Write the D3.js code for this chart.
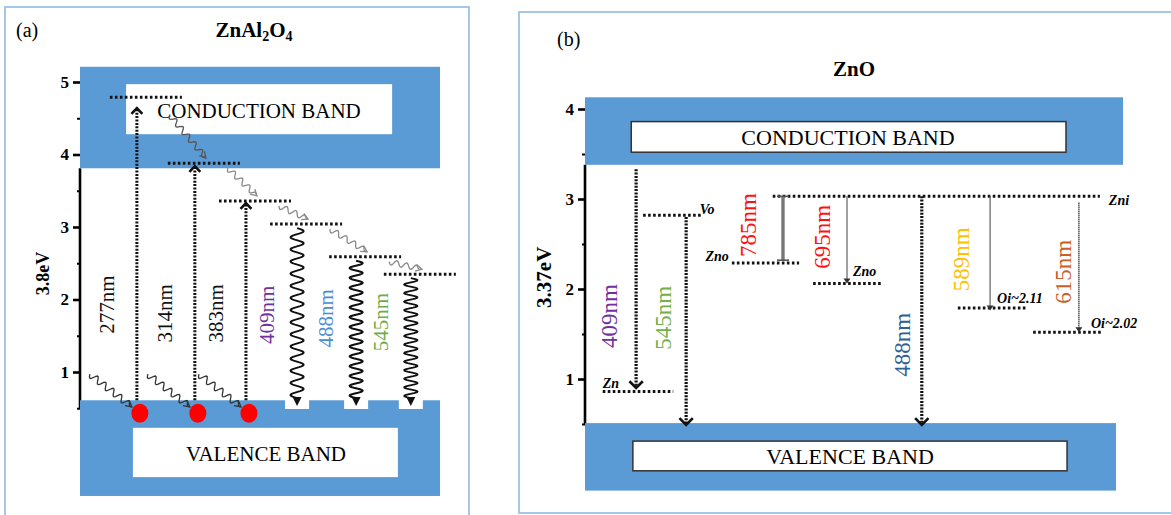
<!DOCTYPE html>
<html>
<head>
<meta charset="utf-8">
<script src="https://cdn.jsdelivr.net/npm/d3@7"></script>
<style>
  html, body { margin: 0; padding: 0; background: #fff; }
  svg { display: block; }
  text { font-family: "Liberation Serif", "Times New Roman", serif; }
</style>
</head>
<body>
<svg id="chart" width="1171" height="515"></svg>
<script>
// ---------- Panel (a): ZnAl2O4 energy-level scheme ----------
const aTicks = [1, 2, 3, 4, 5];
const aMinorTicks = [0.5, 1.5, 2.5, 3.5, 4.5];
const aConduction = [3.81, 5.21];          // eV span of the conduction band block
const aValence = [-0.71, 0.61];            // eV span of the valence band block
const aTransitions = ["277nm", "314nm", "383nm", "409nm", "488nm", "545nm"];
const aLanes = [1.58, 3.19, 4.61, 6.03, 7.67, 9.19];   // horizontal slot of each transition
const aLevels = [4.79, 3.88, 3.36, 3.04, 2.59, 2.35];  // level reached / emitted from (eV)
const aAbsorbTips = [4.64, 3.84, 3.33];                // tips of the excitation arrows (eV)
const aLabelAt = [1.93, 1.81, 1.81, 1.79, 1.74, 1.69]; // label centres (eV)

// ---------- Panel (b): ZnO energy-level scheme ----------
const bTicks = [1, 2, 3, 4];
const bMinorTicks = [0.5, 1.5, 2.5, 3.5];
const bConduction = [3.38, 4.13];
const bValence = [-0.24, 0.51];
const bTransitions = ["409nm", "545nm", "785nm", "695nm", "488nm", "589nm", "615nm"];
const bLanes = [0.95, 1.88, 3.68, 4.87, 6.26, 7.53, 9.18];
const bFrom = [3.33, 2.80, 3.03, 3.03, 3.03, 3.03, 2.96];
const bTo = [0.90, 0.49, 2.32, 2.06, 0.49, 1.76, 1.52];
const bLabelLanes = [0.46, 1.45, 3.03, 4.42, 5.91, 6.99, 8.90];
const bLabelAt = [1.70, 1.68, 2.71, 2.58, 1.38, 2.33, 2.19];
const bLevelNames = ["Zni", "Vo", "Zno", "Zno", "Oi~2.11", "Oi~2.02", "Zn"];
const bLevelE = [3.03, 2.82, 2.29, 2.06, 1.79, 1.52, 0.86];
const bLevelStart = [3.49, 1.08, 2.73, 4.24, 6.93, 8.33, 0.33];
const bLevelEnd = [9.57, 2.17, 3.98, 5.54, 8.22, 9.63, 1.64];

// ---------- styles ----------
const BLUE = "#5B9BD5";
const FRAME = "#9DC3E6";
const SERIF = '"Liberation Serif", "Times New Roman", serif';
const aColors = { "277nm": "#111", "314nm": "#111", "383nm": "#111",
                  "409nm": "#7030A0", "488nm": "#4A8CD0", "545nm": "#70AD47" };
const bColors = { "409nm": "#7030A0", "545nm": "#72B04A", "785nm": "#FF1010", "695nm": "#FF1010",
                  "488nm": "#2F5F93", "589nm": "#FFC000", "615nm": "#C8602A" };
const bKind = { "409nm": "dotted", "545nm": "dotted", "488nm": "dotted",
                "785nm": "bar", "695nm": "thin", "589nm": "thin", "615nm": "thin" };
// where each level name sits: reference point, dx, dy (px), anchor
const bTagPlace = [["end", 9, 9, "start"], ["end", -2, -1, "start"], ["start", -3, -2, "end"],
                   ["695nm", 6, -8, "start"], ["589nm", 7, -5, "start"], ["615nm", 12, -4, "start"],
                   ["start", 0, -4, "start"]];

const svg = d3.select("#chart");
svg.append("rect").attr("width", 1171).attr("height", 515).attr("fill", "#fff");

// helpers --------------------------------------------------------------
function squigglePath(x0, y0, x1, y1, amp, period) {
  const dx = x1 - x0, dy = y1 - y0, L = Math.hypot(dx, dy);
  const ux = dx / L, uy = dy / L, nx = -uy, ny = ux;
  const pts = d3.range(0, L + 0.5, 1).map(t => {
    const fade = Math.min(1, (L - t) / 6);
    const o = amp * Math.sin(2 * Math.PI * t / period) * fade;
    return [x0 + ux * t + nx * o, y0 + uy * t + ny * o];
  });
  return d3.line()(pts);
}
function openHead(x, y, ux, uy, len, spread) {
  const a = Math.atan2(uy, ux);
  const p1 = [x - len * Math.cos(a - spread), y - len * Math.sin(a - spread)];
  const p2 = [x - len * Math.cos(a + spread), y - len * Math.sin(a + spread)];
  return `M${p1[0]},${p1[1]}L${x},${y}L${p2[0]},${p2[1]}`;
}
function squiggleArrow(g, x0, y0, x1, y1, color, width, amp) {
  g.append("path").attr("d", squigglePath(x0, y0, x1, y1, amp, 10))
    .attr("fill", "none").attr("stroke", color).attr("stroke-width", width);
  const L = Math.hypot(x1 - x0, y1 - y0);
  g.append("path").attr("d", openHead(x1, y1, (x1 - x0) / L, (y1 - y0) / L, 7, 0.5))
    .attr("fill", "none").attr("stroke", color).attr("stroke-width", width);
}
function drawAxis(g, x, y, ticks, minor, bottom, top) {
  g.append("line").attr("x1", x).attr("x2", x).attr("y1", y(bottom)).attr("y2", y(top))
    .attr("stroke", "#000").attr("stroke-width", 2.6);
  const major = g.append("g").attr("transform", `translate(${x},0)`)
    .call(d3.axisLeft(y).tickValues(ticks).tickSize(7).tickPadding(4).tickFormat(d3.format("d")));
  major.select(".domain").remove();
  major.selectAll(".tick line").attr("stroke", "#000").attr("stroke-width", 2.6);
  major.selectAll(".tick text").attr("fill", "#000")
    .style("font-family", SERIF).style("font-size", "17px").style("font-weight", "bold");
  const mn = g.append("g").attr("transform", `translate(${x},0)`)
    .call(d3.axisLeft(y).tickValues(minor).tickSize(3).tickFormat(""));
  mn.select(".domain").remove();
  mn.selectAll(".tick line").attr("stroke", "#000").attr("stroke-width", 2);
}
function rotatedLabel(g, x, y, txt, color, size) {
  g.append("text").attr("transform", `translate(${x},${y}) rotate(-90)`)
    .attr("text-anchor", "middle").attr("dominant-baseline", "central")
    .attr("font-size", size).attr("fill", color).text(txt);
}

// ======================= Panel (a) =======================
const ya = d3.scaleLinear().domain([0, 5]).range([444.5, 82]);
const xa = d3.scaleLinear().domain([0, 10]).range([80, 440]);
const gA = svg.append("g");

gA.append("rect").attr("x", 5).attr("y", 7).attr("width", 464).attr("height", 530)
  .attr("fill", "none").attr("stroke", FRAME).attr("stroke-width", 1.8);
gA.append("text").attr("x", 16).attr("y", 37).attr("font-size", 20).text("(a)");
const tA = gA.append("text").attr("x", 254).attr("y", 37).attr("text-anchor", "middle")
  .attr("font-size", 21).attr("font-weight", "bold");
tA.append("tspan").text("ZnAl");
tA.append("tspan").attr("font-size", 14).attr("dy", 4).text("2");
tA.append("tspan").attr("dy", -4).text("O");
tA.append("tspan").attr("font-size", 14).attr("dy", 4).text("4");

drawAxis(gA, xa(0), ya, aTicks, aMinorTicks, 0.49, aConduction[0]);
gA.append("text").attr("transform", `translate(43,${ya(2.36)}) rotate(-90)`)
  .attr("text-anchor", "middle").attr("dominant-baseline", "central")
  .attr("font-size", 18).attr("font-weight", "bold").text("3.8eV");

// bands
gA.append("rect").attr("x", xa(0)).attr("width", xa(10) - xa(0))
  .attr("y", ya(aConduction[1])).attr("height", ya(aConduction[0]) - ya(aConduction[1])).attr("fill", BLUE);
gA.append("rect").attr("x", xa(0)).attr("width", xa(10) - xa(0))
  .attr("y", ya(aValence[1])).attr("height", ya(aValence[0]) - ya(aValence[1])).attr("fill", BLUE);
gA.append("rect").attr("x", xa(1.28)).attr("width", xa(8.67) - xa(1.28))
  .attr("y", ya(4.97)).attr("height", ya(4.28) - ya(4.97)).attr("fill", "#fff");
gA.append("rect").attr("x", xa(1.47)).attr("width", xa(8.83) - xa(1.47))
  .attr("y", ya(0.23)).attr("height", ya(-0.45) - ya(0.23)).attr("fill", "#fff");
gA.append("text").attr("x", 259).attr("y", 118).attr("text-anchor", "middle")
  .attr("font-size", 21).text("CONDUCTION BAND");
gA.append("text").attr("x", 266).attr("y", 461).attr("text-anchor", "middle")
  .attr("font-size", 21).text("VALENCE BAND");

// notches where the emission arrows land
aTransitions.forEach((t, i) => {
  if (i < 3) return;
  const x = xa(aLanes[i]);
  gA.append("rect").attr("x", x - 12).attr("width", 24)
    .attr("y", ya(aValence[1]) - 1).attr("height", ya(0.49) - ya(aValence[1]) + 1).attr("fill", "#fff");
});

// energy levels
aTransitions.forEach((t, i) => {
  const x = xa(aLanes[i]), y = ya(aLevels[i]);
  gA.append("line").attr("x1", x - 27).attr("x2", x + 45).attr("y1", y).attr("y2", y)
    .attr("stroke", "#111").attr("stroke-width", 3).attr("stroke-dasharray", "2.6,2.4");
});

// relaxation squiggles between levels
for (let i = 0; i < aTransitions.length - 1; i++) {
  const x0 = xa(aLanes[i]) + 33, y0 = ya(aLevels[i]) + (i === 0 ? 18 : 5);
  const x1 = xa(aLanes[i + 1]) + 11, y1 = ya(aLevels[i + 1]) - 5;
  squiggleArrow(gA, x0, y0, x1, y1, i === 0 ? "#555" : "#8a8a8a", 1.3, 2.8);
}

// excitation arrows with holes
aTransitions.forEach((t, i) => {
  if (i >= 3) return;
  const x = xa(aLanes[i]);
  const tip = ya(aAbsorbTips[i]);
  squiggleArrow(gA, x - 47, ya(0.97), x - 5, ya(0.52), "#333", 1.3, 3.3);
  gA.append("line").attr("x1", x).attr("x2", x).attr("y1", ya(aValence[1])).attr("y2", tip + 2)
    .attr("stroke", "#111").attr("stroke-width", 3).attr("stroke-dasharray", "2,1.4");
  gA.append("path").attr("d", openHead(x, tip, 0, -1, 8, 0.75))
    .attr("fill", "none").attr("stroke", "#111").attr("stroke-width", 2.6);
  gA.append("ellipse").attr("cx", x + 3).attr("cy", ya(0.43)).attr("rx", 8.5).attr("ry", 9.5)
    .attr("fill", "#FF0000");
});

// radiative (wavy) emissions
aTransitions.forEach((t, i) => {
  if (i < 3) return;
  const x = xa(aLanes[i]);
  const yTop = ya(aLevels[i]) + 4, yTip = ya(0.53);
  const yEnd = yTip - 8;
  const period = (yEnd - yTop) / 14;
  const pts = d3.range(yTop, yEnd + 0.5, 0.5).map(y =>
    [x + 6.5 * Math.sin(2 * Math.PI * (y - yTop) / period), y]);
  gA.append("path").attr("d", d3.line()(pts)).attr("fill", "none")
    .attr("stroke", "#111").attr("stroke-width", 2);
  gA.append("path").attr("d", `M${x - 4.5},${yEnd - 1}L${x + 4.5},${yEnd - 1}L${x},${yTip}Z`)
    .attr("fill", "#111");
});

// wavelength labels
aTransitions.forEach((t, i) => {
  rotatedLabel(gA, xa(aLanes[i]) - 30, ya(aLabelAt[i]), t, aColors[t], 21);
});

// ======================= Panel (b) =======================
const yb = d3.scaleLinear().domain([0, 4]).range([469, 109]);
const xb = d3.scaleLinear().domain([0, 10]).range([585, 1123]);
const gB = svg.append("g");

gB.append("rect").attr("x", 519).attr("y", 12).attr("width", 700).attr("height", 501)
  .attr("fill", "none").attr("stroke", FRAME).attr("stroke-width", 1.8);
gB.append("text").attr("x", 557).attr("y", 46).attr("font-size", 20).text("(b)");
gB.append("text").attr("x", 854).attr("y", 76).attr("text-anchor", "middle")
  .attr("font-size", 21).attr("font-weight", "bold").text("ZnO");

drawAxis(gB, xb(0), yb, bTicks, bMinorTicks, 0.5, bConduction[0]);
gB.append("text").attr("transform", `translate(544,${yb(2.13)}) rotate(-90)`)
  .attr("text-anchor", "middle").attr("dominant-baseline", "central")
  .attr("font-size", 21).attr("font-weight", "bold").text("3.37eV");

gB.append("rect").attr("x", xb(0)).attr("width", xb(10) - xb(0))
  .attr("y", yb(bConduction[1])).attr("height", yb(bConduction[0]) - yb(bConduction[1])).attr("fill", BLUE);
gB.append("rect").attr("x", xb(0)).attr("width", xb(9.87) - xb(0))
  .attr("y", yb(bValence[1])).attr("height", yb(bValence[0]) - yb(bValence[1])).attr("fill", BLUE);
gB.append("rect").attr("x", xb(0.86)).attr("width", xb(8.94) - xb(0.86))
  .attr("y", yb(3.86)).attr("height", yb(3.52) - yb(3.86))
  .attr("fill", "#fff").attr("stroke", "#333").attr("stroke-width", 1.5);
gB.append("rect").attr("x", xb(0.89)).attr("width", xb(8.96) - xb(0.89))
  .attr("y", yb(0.31)).attr("height", yb(-0.02) - yb(0.31))
  .attr("fill", "#fff").attr("stroke", "#333").attr("stroke-width", 1.5);
gB.append("text").attr("x", 848).attr("y", 145).attr("text-anchor", "middle")
  .attr("font-size", 22).text("CONDUCTION BAND");
gB.append("text").attr("x", 850).attr("y", 464).attr("text-anchor", "middle")
  .attr("font-size", 22).text("VALENCE BAND");

// defect levels
bLevelNames.forEach((name, i) => {
  const y = yb(bLevelE[i]);
  gB.append("line").attr("x1", xb(bLevelStart[i])).attr("x2", xb(bLevelEnd[i])).attr("y1", y).attr("y2", y)
    .attr("stroke", "#111").attr("stroke-width", 3).attr("stroke-dasharray", "2.6,2.4");
  const [ref, dx, dy, anchor] = bTagPlace[i];
  let x0;
  if (ref === "start") x0 = xb(bLevelStart[i]);
  else if (ref === "end") x0 = xb(bLevelEnd[i]);
  else x0 = xb(bLanes[bTransitions.indexOf(ref)]);
  gB.append("text").attr("x", x0 + dx).attr("y", y + dy).attr("text-anchor", anchor)
    .attr("font-size", 14).attr("font-weight", "bold").attr("font-style", "italic").text(name);
});

// transitions
bTransitions.forEach((t, i) => {
  const x = xb(bLanes[i]), y0 = yb(bFrom[i]), y1 = yb(bTo[i]);
  const kind = bKind[t];
  if (kind === "dotted") {
    gB.append("line").attr("x1", x).attr("x2", x).attr("y1", y0).attr("y2", y1 - 2)
      .attr("stroke", "#111").attr("stroke-width", 3.2).attr("stroke-dasharray", "2,1.3");
    gB.append("path").attr("d", openHead(x, y1, 0, 1, 9.5, 0.78))
      .attr("fill", "none").attr("stroke", "#111").attr("stroke-width", 2.6);
  } else if (kind === "bar") {
    gB.append("line").attr("x1", x).attr("x2", x).attr("y1", y0).attr("y2", y1)
      .attr("stroke", "#777").attr("stroke-width", 3.4);
    [y0, y1].forEach(yy => gB.append("line").attr("x1", x - 6).attr("x2", x + 6)
      .attr("y1", yy).attr("y2", yy).attr("stroke", "#555").attr("stroke-width", 1.6));
  } else {
    gB.append("line").attr("x1", x).attr("x2", x).attr("y1", y0).attr("y2", y1 - 3)
      .attr("stroke", "#555").attr("stroke-width", 1.5).attr("stroke-dasharray", "1.4,0.6");
    gB.append("path").attr("d", `M${x - 3.5},${y1 - 5}L${x + 3.5},${y1 - 5}L${x},${y1}Z`).attr("fill", "#333");
  }
  rotatedLabel(gB, xb(bLabelLanes[i]), yb(bLabelAt[i]), t, bColors[t], 23);
});
</script>
</body>
</html>
